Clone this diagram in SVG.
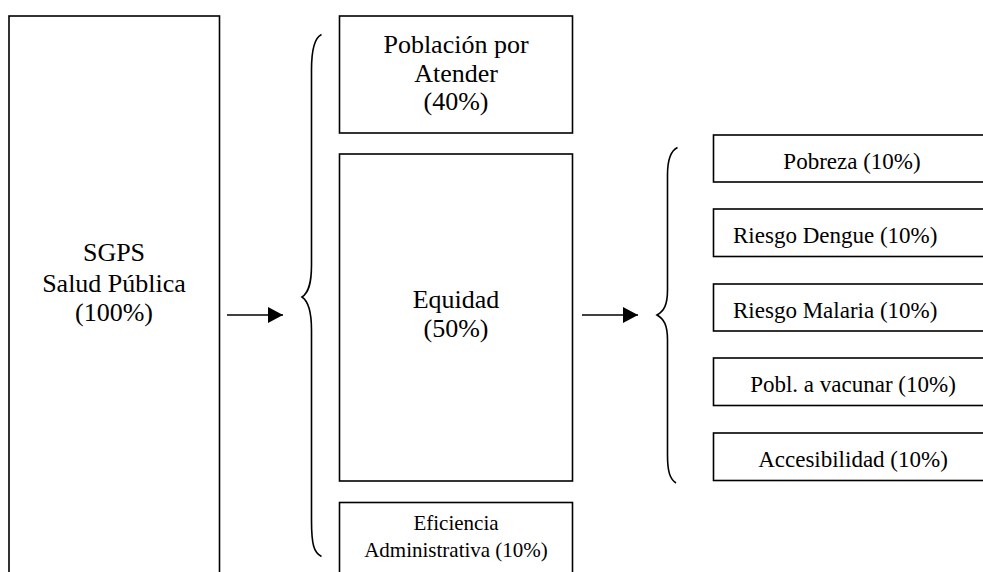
<svg xmlns="http://www.w3.org/2000/svg" width="983" height="572" viewBox="0 0 983 572">
<defs>
<style>
.box{fill:#fff;stroke:#000;stroke-width:1.6}
.t{font-family:"Liberation Serif","Times New Roman",serif;fill:#000}
.c{text-anchor:middle}
.conn{fill:none;stroke:#000;stroke-width:1.6}
.brace{fill:none;stroke:#000;stroke-width:1.6}
</style>
<marker id="ah" markerWidth="15" markerHeight="16" refX="15" refY="8" orient="auto" markerUnits="userSpaceOnUse">
<path d="M0,0 L15,8 L0,16 Z" fill="#000"/>
</marker>
</defs>
<rect width="983" height="572" fill="#fff"/>
<g id="sgps">
<rect class="box" x="9" y="16" width="210.5" height="580"/>
<text class="t c" x="114" y="261" font-size="26">SGPS</text>
<text class="t c" x="114" y="292" font-size="26">Salud Pública</text>
<text class="t c" x="114" y="321" font-size="26">(100%)</text>
</g>
<g id="poblacion">
<rect class="box" x="339.5" y="16" width="233" height="117"/>
<text class="t c" x="456" y="53" font-size="26">Población por</text>
<text class="t c" x="456" y="82" font-size="26">Atender</text>
<text class="t c" x="456" y="110" font-size="26">(40%)</text>
</g>
<g id="equidad">
<rect class="box" x="339.5" y="154" width="233" height="327"/>
<text class="t c" x="456" y="308" font-size="26">Equidad</text>
<text class="t c" x="456" y="337" font-size="26">(50%)</text>
</g>
<g id="eficiencia">
<rect class="box" x="339.5" y="502.5" width="233" height="100"/>
<text class="t c" x="456" y="530" font-size="21">Eficiencia</text>
<text class="t c" x="456" y="557" font-size="21">Administrativa (10%)</text>
</g>
<g id="pobreza">
<rect class="box" x="713.5" y="135" width="290" height="47"/>
<text class="t c" x="852" y="169" font-size="23">Pobreza (10%)</text>
</g>
<g id="dengue">
<rect class="box" x="713.5" y="209" width="290" height="47.5"/>
<text class="t" x="733" y="243" font-size="23">Riesgo Dengue (10%)</text>
</g>
<g id="malaria">
<rect class="box" x="713.5" y="284" width="290" height="47"/>
<text class="t" x="733" y="318" font-size="23">Riesgo Malaria (10%)</text>
</g>
<g id="vacunar">
<rect class="box" x="713.5" y="358" width="290" height="47.5"/>
<text class="t c" x="853" y="392" font-size="23">Pobl. a vacunar (10%)</text>
</g>
<g id="accesibilidad">
<rect class="box" x="713.5" y="433" width="290" height="47.5"/>
<text class="t c" x="853" y="467" font-size="23">Accesibilidad (10%)</text>
</g>
<g id="connectors">
<line class="conn" x1="227" y1="315" x2="283" y2="315" marker-end="url(#ah)"/>
<line class="conn" x1="582" y1="315" x2="638" y2="315" marker-end="url(#ah)"/>
<path class="brace" d="M321.5,34.5 C314,38 311.5,50 311.5,70 L311.5,265 C311.5,285 308,293 302,297 C308,301 311.5,310 311.5,330 L311.5,520 C311.5,545 314,553 321.5,556.5"/>
<path class="brace" d="M677.5,147.5 C670,151 667.5,160 667.5,175 L667.5,290 C667.5,305 664,311 657,315 C664,319 667.5,325 667.5,340 L667.5,455 C667.5,472 670,479 676,483"/>
</g>
</svg>
